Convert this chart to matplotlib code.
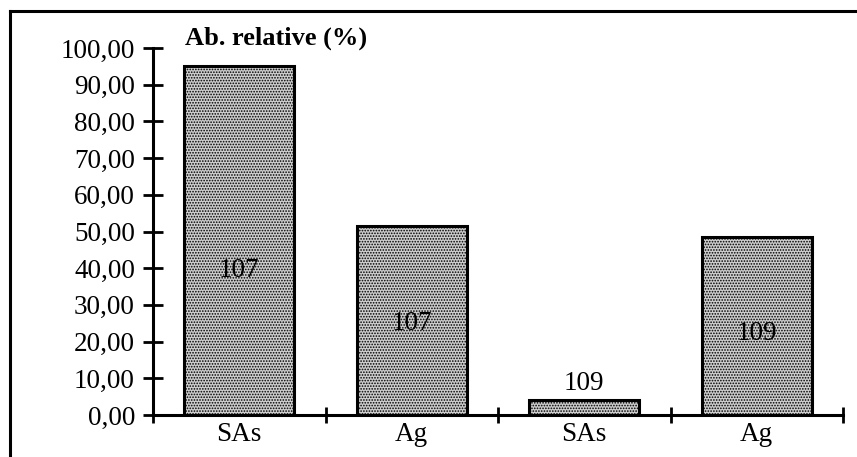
import matplotlib.pyplot as plt
from matplotlib.lines import Line2D
from matplotlib.ticker import FixedLocator, FuncFormatter

plt.rcParams['font.family'] = ['Liberation Serif', 'DejaVu Serif']
plt.rcParams['hatch.linewidth'] = 0.8

# data
categories = ['SAs', 'Ag', 'SAs', 'Ag']
values = [95.1, 51.5, 4.1, 48.5]
isotopes = ['107', '107', '109', '109']
label_y = [39.5, 25.0, 8.7, 22.3]
y_ticks = [0, 10, 20, 30, 40, 50, 60, 70, 80, 90, 100]

fig = plt.figure(figsize=(8.57, 4.57), dpi=100)
ax = fig.add_axes([153 / 857, 42 / 457, 690 / 857, 367 / 457])

x = list(range(len(categories)))
ax.bar(x, values, width=0.64, facecolor='#cdcdcd', edgecolor='black',
       linewidth=2.2, hatch='......', zorder=2)

for xi, lab, ly in zip(x, isotopes, label_y):
    ax.text(xi, ly, lab, ha='center', va='center', fontsize=19.5, zorder=3)

ax.set_xlim(-0.5, len(categories) - 0.5)
ax.set_ylim(0, 100)

ax.yaxis.set_major_locator(FixedLocator(y_ticks))
ax.yaxis.set_major_formatter(FuncFormatter(lambda v, p: '{:.2f}'.format(v).replace('.', ',')))
ax.tick_params(axis='y', direction='inout', length=14, width=2.0, labelsize=19.5, pad=6)

# boundaries get the tick marks, centres get the labels
ax.xaxis.set_major_locator(FixedLocator([i - 0.5 for i in range(len(categories) + 1)]))
ax.xaxis.set_major_formatter(FuncFormatter(lambda v, p: ''))
ax.xaxis.set_minor_locator(FixedLocator(x))
ax.xaxis.set_minor_formatter(FuncFormatter(lambda v, p: categories[int(round(v))]))
ax.tick_params(axis='x', which='major', direction='inout', length=12, width=2.0)
ax.tick_params(axis='x', which='minor', length=0, labelsize=19.5, pad=5)

for s in ['top', 'right']:
    ax.spines[s].set_visible(False)
for s in ['left', 'bottom']:
    ax.spines[s].set_linewidth(2.2)
ax.spines['bottom'].set_zorder(4)

ax.text(0.046, 1.027, 'Ab. relative (%)', transform=ax.transAxes, fontsize=19,
        fontweight='bold', ha='left', va='center', clip_on=False)

# outer frame (only top and left edges show in the original crop)
fig.add_artist(Line2D([10 / 857, 1.0], [1 - 11 / 457, 1 - 11 / 457],
                      transform=fig.transFigure, color='black', linewidth=2.2))
fig.add_artist(Line2D([10 / 857, 10 / 857], [0.0, 1 - 11 / 457],
                      transform=fig.transFigure, color='black', linewidth=2.2))

fig.savefig('out.png', dpi=100)
